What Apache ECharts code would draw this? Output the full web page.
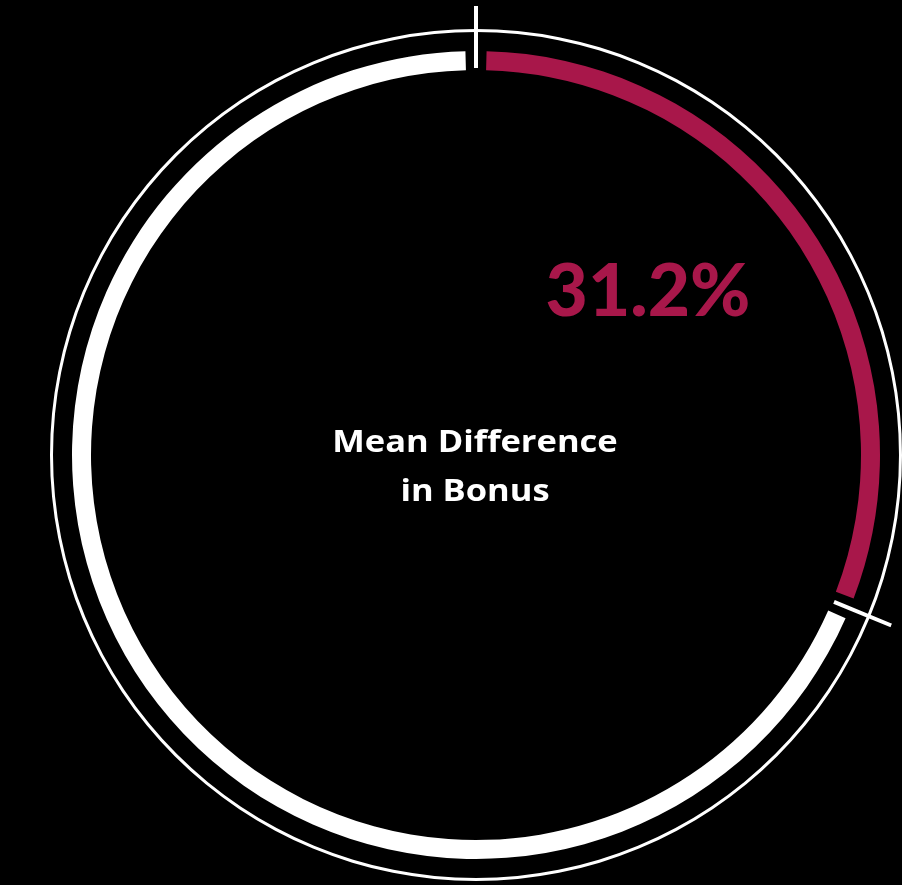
<!DOCTYPE html>
<html>
<head>
<meta charset="utf-8">
<style>
  html, body { margin: 0; padding: 0; background: #000; }
  #chart { width: 902px; height: 885px; }
</style>
<script src="https://cdn.jsdelivr.net/npm/echarts@6/dist/echarts.min.js"></script>
</head>
<body>
<div id="chart"></div>
<script>
// Share of the ring: highlighted part vs. remainder (percent)
const segmentNames = ['Mean Difference in Bonus', 'Remainder'];
const segmentValues = [31.2, 68.8];
const segmentColors = ['#A8174A', '#FFFFFF'];
const centerLines = ['Mean Difference', 'in Bonus'];

const CX = 476, CY = 455;
const crimson = segmentColors[0];

// Tick positions: the boundaries between segments (cumulative values)
const tickAngles = [];
let acc = 0;
segmentValues.forEach(v => { tickAngles.push(acc); acc += v; });
const total = acc;

const tickData = [];
tickAngles.forEach((a, i) => {
  if (i > 0) tickData.push('-');
  tickData.push([387, a]);
  tickData.push([449, a]);
});

const chart = echarts.init(document.getElementById('chart'), null, { renderer: 'canvas' });

chart.setOption({
  backgroundColor: '#000000',
  animation: false,
  polar: { center: [CX, CY], radius: 449 },
  angleAxis: { type: 'value', min: 0, max: total, startAngle: 90, clockwise: true, show: false },
  radiusAxis: { type: 'value', min: 0, max: 449, show: false },
  series: [
    {
      // thin outer circle
      type: 'pie',
      silent: true,
      center: [CX, CY],
      radius: [423, 426],
      label: { show: false },
      labelLine: { show: false },
      itemStyle: { color: '#FFFFFF', borderWidth: 0 },
      data: [{ value: 1 }]
    },
    {
      type: 'pie',
      silent: true,
      center: [CX, CY],
      radius: [385, 404],
      startAngle: 90,
      clockwise: true,
      padAngle: 3,
      label: { show: false },
      labelLine: { show: false },
      itemStyle: { borderWidth: 0 },
      data: segmentValues.map((v, i) => ({
        name: segmentNames[i],
        value: v,
        itemStyle: { color: segmentColors[i] }
      }))
    },
    {
      // boundary ticks
      type: 'line',
      coordinateSystem: 'polar',
      silent: true,
      showSymbol: false,
      connectNulls: false,
      clip: false,
      lineStyle: { color: '#FFFFFF', width: 4, cap: 'butt' },
      data: tickData
    }
  ],
  graphic: [
    {
      type: 'text',
      silent: true,
      x: 648, y: 292,
      style: {
        x: 0, y: 0,
        text: segmentValues[0].toFixed(1) + '%',
        fill: crimson,
        font: '900 73px Lato, "Open Sans", sans-serif',
        align: 'center',
        verticalAlign: 'middle'
      }
    },
    {
      type: 'text',
      silent: true,
      x: 475, y: 468,
      scaleX: 1.15,
      style: {
        x: 0, y: 0,
        text: centerLines.join('\n'),
        fill: '#FFFFFF',
        font: 'bold 30px "Open Sans", sans-serif',
        lineHeight: 49,
        align: 'center',
        verticalAlign: 'middle'
      }
    }
  ]
});
</script>
</body>
</html>
